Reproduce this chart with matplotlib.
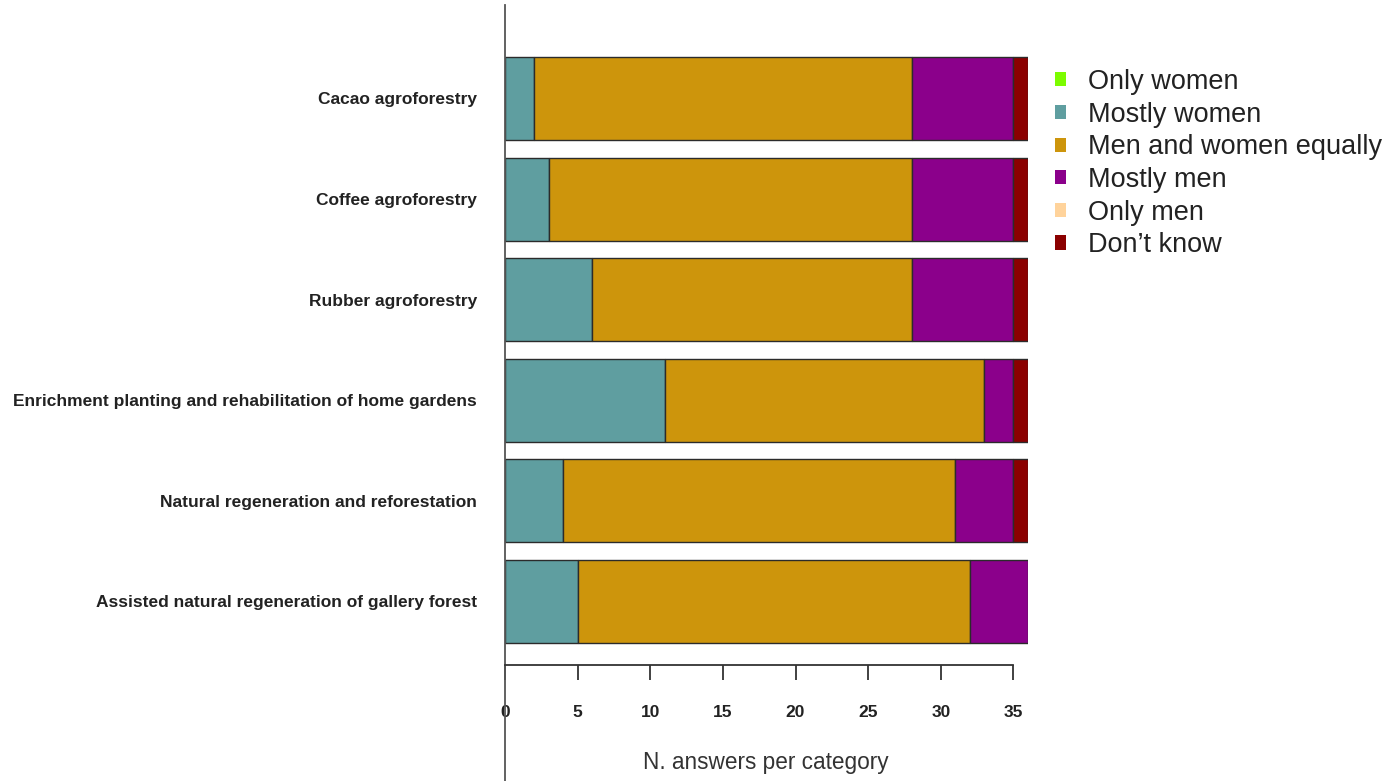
import matplotlib
matplotlib.use("Agg")
import matplotlib.pyplot as plt
from matplotlib.patches import Patch
import numpy as np

plt.rcParams['font.family'] = ['Liberation Sans', 'DejaVu Sans']

categories = [
    "Cacao agroforestry",
    "Coffee agroforestry",
    "Rubber agroforestry",
    "Enrichment planting and rehabilitation of home gardens",
    "Natural regeneration and reforestation",
    "Assisted natural regeneration of gallery forest",
]
series_names = ["Only women", "Mostly women", "Men and women equally",
                "Mostly men", "Only men", "Don\u2019t know"]
only_women = [0, 0, 0, 0, 0, 0]
mostly_women = [2, 3, 6, 11, 4, 5]
equally = [26, 25, 22, 22, 27, 27]
mostly_men = [7, 7, 7, 2, 4, 4]
only_men = [0, 0, 0, 0, 0, 0]
dont_know = [1, 1, 1, 1, 1, 0]
colors = ["#7CFC00", "#5F9EA0", "#CD950C", "#8B008B", "#FFD39B", "#8B0000"]
xticks = [0, 5, 10, 15, 20, 25, 30, 35]

W, H = 1390, 781
fig = plt.figure(figsize=(W / 100, H / 100), dpi=100)
ax = fig.add_axes([505 / W, 0, (1028 - 505) / W, 1 - 5 / H])

series = [only_women, mostly_women, equally, mostly_men, only_men, dont_know]
n = len(categories)
ypos = np.arange(n)[::-1]  # first category on top
left = np.zeros(n)
for vals, col in zip(series, colors):
    v = np.array(vals, dtype=float)
    mask = v > 0
    ax.barh(ypos[mask], v[mask], left=left[mask], height=0.825, color=col,
            edgecolor="#2b2b2b", linewidth=1.0)
    left += v

px = 100.6
ax.set_ylim(-(781 - 601.5) / px, 5 + (98.5 - 5) / px)
ax.set_xlim(0, 36)

for s in ["top", "right"]:
    ax.spines[s].set_visible(False)
ax.spines["left"].set_color("#555555")
ax.spines["left"].set_linewidth(1.3)
ax.spines["bottom"].set_position(("data", -(665 - 601.5) / px))
ax.spines["bottom"].set_bounds(0, 35)
ax.spines["bottom"].set_linewidth(1.3)
ax.spines["bottom"].set_color("#333333")

ax.set_xticks(xticks)
ax.set_xticklabels([str(t) for t in xticks], fontweight="bold", fontsize=12.5,
                   color="#222222")
ax.tick_params(axis="x", length=11, width=1.3, color="#333333", pad=18)

ax.set_yticks(ypos)
ax.set_yticklabels(categories, fontweight="bold", fontsize=12.5,
                   color="#222222")
ax.tick_params(axis="y", length=0, pad=20)

fig.text(766 / W, 1 - 763 / H, "N. answers per category", ha="center",
         va="center", fontsize=16.3, color="#333333")

handles = [Patch(facecolor=c, edgecolor="none") for c in colors]
fig.legend(handles, series_names, loc="upper left",
           bbox_to_anchor=(1055 / W, 1 - 69 / H), frameon=False,
           fontsize=19.5, handlelength=0.42, handleheight=0.42,
           handletextpad=0.78, labelspacing=0.245, borderpad=0,
           borderaxespad=0, labelcolor="#222222")

fig.savefig("out.png", dpi=100)
